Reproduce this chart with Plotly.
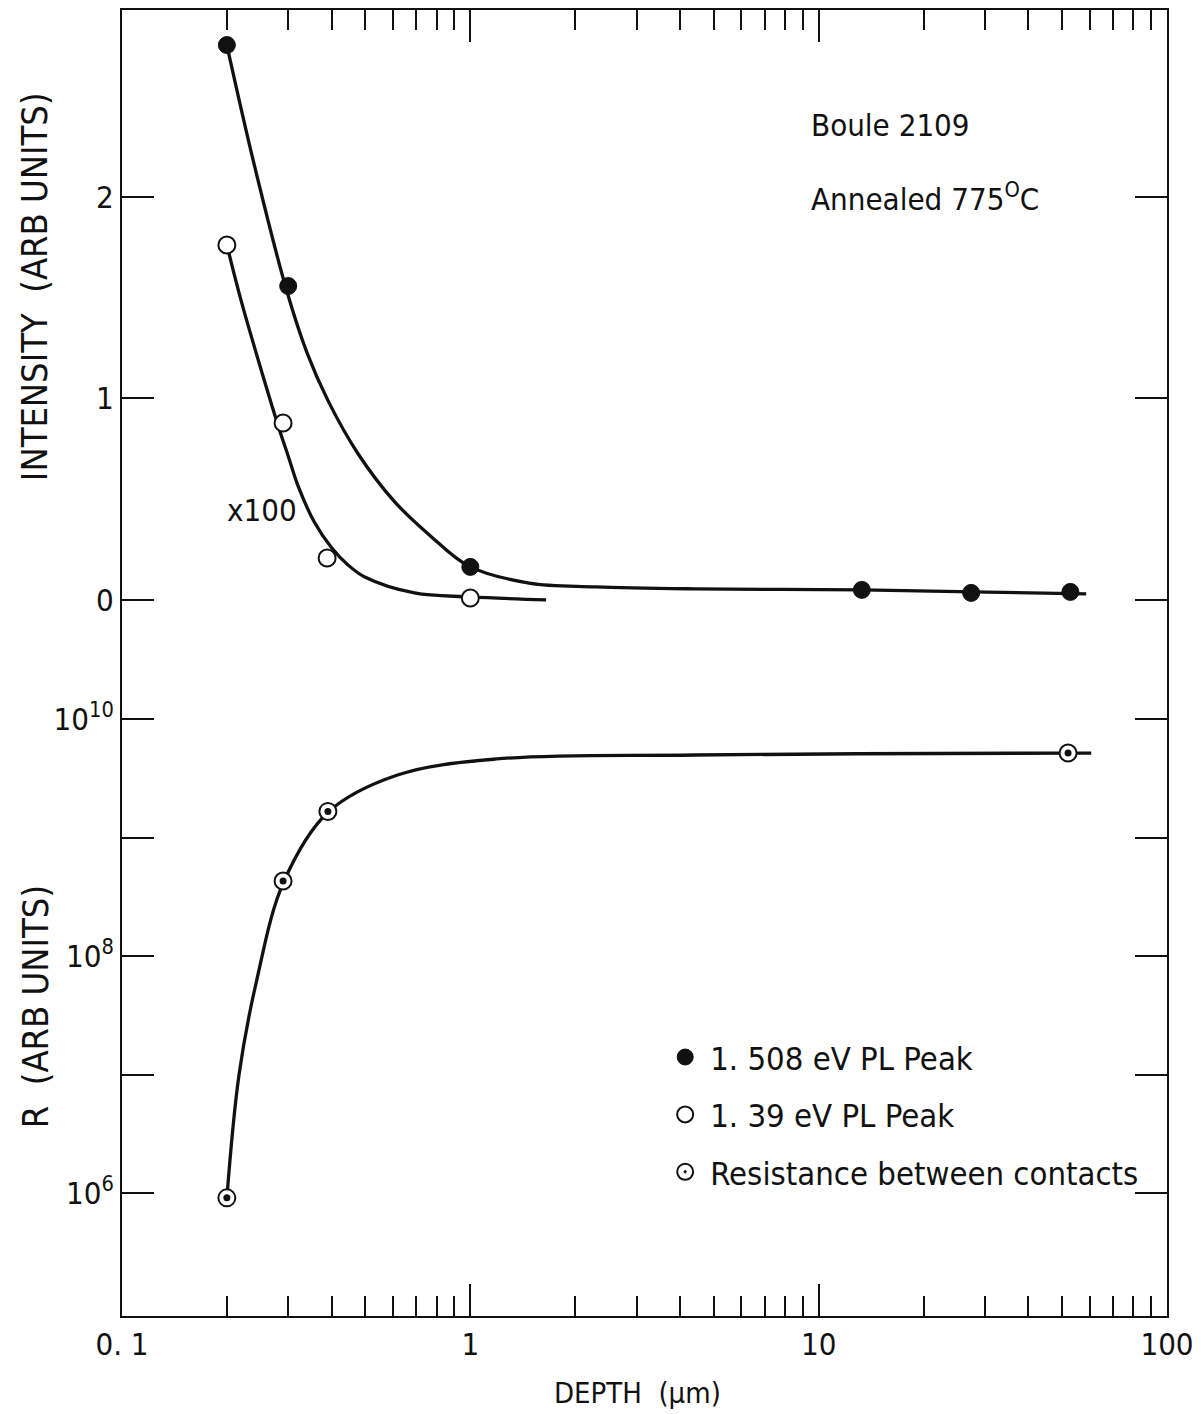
import plotly.graph_objects as go

# ---------------- data ----------------
# 1.508 eV PL peak (filled circles), intensity in arb. units
pl1508_depth = [0.2, 0.3, 1.0, 13.3, 27.4, 52.8]
pl1508_int = [2.754, 1.558, 0.164, 0.050, 0.035, 0.040]
pl1508_curve_depth = [0.2, 0.239, 0.2967, 0.3398, 0.3906, 0.4755, 0.6058, 0.767, 0.99, 1.476, 2.29, 4.41, 13.3, 27.4, 58.6]
pl1508_curve_int = [2.754, 2.169, 1.538, 1.226, 0.988, 0.727, 0.488, 0.319, 0.168, 0.084, 0.065, 0.055, 0.050, 0.040, 0.030]

# 1.39 eV PL peak (open circles, x100)
pl139_depth = [0.2, 0.29, 0.388, 1.0]
pl139_int = [1.762, 0.878, 0.208, 0.01]
pl139_curve_depth = [0.2, 0.2195, 0.2485, 0.2814, 0.3006, 0.321, 0.3565, 0.3982, 0.4452, 0.4977, 0.691, 1.0, 1.65]
pl139_curve_int = [1.762, 1.489, 1.166, 0.859, 0.710, 0.561, 0.387, 0.263, 0.174, 0.114, 0.035, 0.015, 0.0]

# Resistance between contacts (dotted circles)
res_depth = [0.2, 0.29, 0.39, 52.0]
res_R = [9.1e5, 4.3e8, 1.66e9, 5.16e9]
res_curve_depth = [0.2, 0.2167, 0.2437, 0.291, 0.391, 0.618, 1.19, 4.41, 52.0, 60.6]
res_curve_R = [9.1e5, 9.9e6, 6.27e7, 4.2e8, 1.64e9, 3.37e9, 4.6e9, 4.97e9, 5.16e9, 5.16e9]

x_major_vals = [0.1, 1, 10, 100]
x_major_text = ["0. 1", "1", "10", "100"]
x_minor_vals = [m * d for d in (0.1, 1, 10) for m in range(2, 10)]
int_tick_vals = [0, 1, 2]
int_tick_text = ["0", "1", "2"]
r_tick_vals = [1e6, 1e8, 1e10]
r_tick_text = ["10<sup>6</sup>", "10<sup>8</sup>", "10<sup>10</sup>"]
r_minor_vals = [1e7, 1e9]

FONT = '"Liberation Sans Narrow", "DejaVu Sans Condensed", "Liberation Sans", sans-serif'
BLACK = "#111111"

fig = go.Figure()

# ---- top panel (intensity) on x2 / y ----
fig.add_trace(go.Scatter(x=pl1508_curve_depth, y=pl1508_curve_int, mode="lines",
                         line=dict(color=BLACK, width=3.3, shape="spline", smoothing=1.0),
                         xaxis="x2", yaxis="y", showlegend=False, hoverinfo="skip"))
fig.add_trace(go.Scatter(x=pl139_curve_depth, y=pl139_curve_int, mode="lines",
                         line=dict(color=BLACK, width=3.3, shape="spline", smoothing=1.0),
                         xaxis="x2", yaxis="y", showlegend=False, hoverinfo="skip"))
fig.add_trace(go.Scatter(x=pl1508_depth, y=pl1508_int, mode="markers", name="1. 508 eV PL Peak",
                         marker=dict(symbol="circle", size=17, color=BLACK, line=dict(color=BLACK, width=1)),
                         xaxis="x2", yaxis="y", legendgroup="a"))
fig.add_trace(go.Scatter(x=pl139_depth, y=pl139_int, mode="markers", name="1. 39 eV PL Peak",
                         marker=dict(symbol="circle", size=17, color="white", line=dict(color=BLACK, width=2)),
                         xaxis="x2", yaxis="y", legendgroup="b"))

# ---- bottom panel (resistance) on x / y2 ----
fig.add_trace(go.Scatter(x=res_curve_depth, y=res_curve_R, mode="lines",
                         line=dict(color=BLACK, width=3.3, shape="spline", smoothing=1.0),
                         xaxis="x", yaxis="y2", showlegend=False, hoverinfo="skip"))
fig.add_trace(go.Scatter(x=res_depth, y=res_R, mode="markers", name="Resistance between contacts",
                         marker=dict(symbol="circle-dot", size=17, color="white", line=dict(color=BLACK, width=2)),
                         xaxis="x", yaxis="y2", legendgroup="c"))
fig.add_trace(go.Scatter(x=res_depth, y=res_R, mode="markers",
                         marker=dict(symbol="circle", size=7, color=BLACK),
                         xaxis="x", yaxis="y2", showlegend=False, hoverinfo="skip"))

split = 0.5023
tickfont = dict(family=FONT, size=31, color=BLACK)

fig.update_layout(
    width=1204, height=1414,
    margin=dict(l=122, r=32, t=10, b=98),
    paper_bgcolor="white", plot_bgcolor="white",
    font=dict(family=FONT, color=BLACK),
    xaxis=dict(type="log", range=[-1, 2], domain=[0, 1], anchor="y2",
               showline=True, linecolor=BLACK, linewidth=2, showgrid=False, zeroline=False,
               ticks="inside", ticklen=32, tickwidth=2, tickcolor=BLACK,
               tickvals=x_major_vals, ticktext=x_major_text, tickfont=tickfont,
               minor=dict(ticks="inside", ticklen=20, tickwidth=2, tickcolor=BLACK,
                          tickvals=x_minor_vals, showgrid=False)),
    xaxis2=dict(type="log", range=[-1, 2], domain=[0, 1], anchor="y", side="top", overlaying="x",
                showline=True, linecolor=BLACK, linewidth=2, showgrid=False, zeroline=False,
                ticks="inside", ticklen=32, tickwidth=2, tickcolor=BLACK,
                tickvals=[1, 10], showticklabels=False,
                minor=dict(ticks="inside", ticklen=20, tickwidth=2, tickcolor=BLACK,
                           tickvals=x_minor_vals, showgrid=False)),
    yaxis=dict(domain=[split, 1], range=[-0.298, 2.928], anchor="x2",
               showline=True, linecolor=BLACK, linewidth=2, mirror="ticks",
               showgrid=False, zeroline=False,
               ticks="inside", ticklen=32, tickwidth=2, tickcolor=BLACK,
               tickvals=int_tick_vals, ticktext=int_tick_text, tickfont=tickfont),
    yaxis2=dict(type="log", domain=[0, split], range=[4.962, 10.498], anchor="x",
                showline=True, linecolor=BLACK, linewidth=2, mirror="ticks",
                showgrid=False, zeroline=False,
                ticks="inside", ticklen=32, tickwidth=2, tickcolor=BLACK,
                tickvals=r_tick_vals, ticktext=r_tick_text, tickfont=tickfont,
                minor=dict(ticks="inside", ticklen=32, tickwidth=2, tickcolor=BLACK,
                           tickvals=r_minor_vals, showgrid=False)),
    legend=dict(x=0.515, y=0.2195, xanchor="left", yanchor="top",
                bgcolor="rgba(0,0,0,0)", font=dict(family=FONT, size=32.6, color=BLACK),
                tracegroupgap=12, itemwidth=40),
    showlegend=True,
)

ann_font = dict(family=FONT, size=31, color=BLACK)
fig.add_annotation(text="Boule 2109", xref="paper", yref="paper", x=0.657, y=0.912,
                   xanchor="left", yanchor="middle", showarrow=False, font=ann_font)
fig.add_annotation(text="Annealed 775<sup>O</sup>C", xref="paper", yref="paper", x=0.657, y=0.857,
                   xanchor="left", yanchor="middle", showarrow=False, font=ann_font)
fig.add_annotation(text="x100", xref="paper", yref="paper", x=0.134, y=0.617,
                   xanchor="center", yanchor="middle", showarrow=False, font=ann_font)
# axis titles
fig.add_annotation(text="INTENSITY  (ARB UNITS)", xref="paper", yref="paper", x=-0.083, y=0.788,
                   xanchor="center", yanchor="middle", textangle=-90, showarrow=False,
                   font=dict(family=FONT, size=36, color=BLACK))
fig.add_annotation(text="R  (ARB UNITS)", xref="paper", yref="paper", x=-0.083, y=0.2366,
                   xanchor="center", yanchor="middle", textangle=-90, showarrow=False,
                   font=dict(family=FONT, size=36, color=BLACK))
fig.add_annotation(text="DEPTH  (\u00b5m)", xref="paper", yref="paper", x=0.493, y=-0.0593,
                   xanchor="center", yanchor="middle", showarrow=False,
                   font=dict(family=FONT, size=29, color=BLACK))

fig.write_html("out.html")
